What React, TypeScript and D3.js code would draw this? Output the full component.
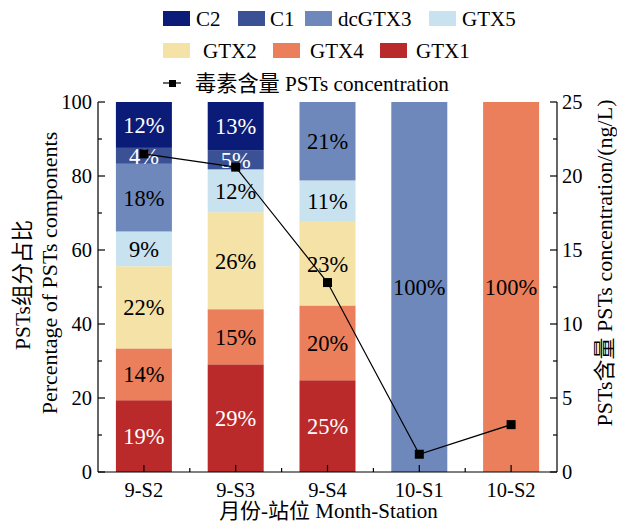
import React from "react";
import * as d3 from "d3";

const stations = ["9-S2", "9-S3", "9-S4", "10-S1", "10-S2"];
const components = ["GTX1", "GTX4", "GTX2", "GTX5", "dcGTX3", "C1", "C2"];
const GTX1 = [19.4, 29.1, 24.8, 0, 0];
const GTX4 = [14.0, 14.9, 20.2, 0, 100];
const GTX2 = [22.2, 26.2, 22.6, 0, 0];
const GTX5 = [9.4, 11.6, 11.2, 0, 0];
const dcGTX3 = [18.3, 0, 21.2, 100, 0];
const C1 = [4.3, 5.2, 0, 0, 0];
const C2 = [12.4, 13.0, 0, 0, 0];
const concentration = [21.5, 20.6, 12.8, 1.2, 3.2];
const leftTicks = [0, 20, 40, 60, 80, 100];
const rightTicks = [0, 5, 10, 15, 20, 25];

const colors: Record<string, string> = {
  C2: "#0b1c78",
  C1: "#3a5196",
  dcGTX3: "#6e88bc",
  GTX5: "#c8e2f0",
  GTX2: "#f4e2a6",
  GTX4: "#eb7f5b",
  GTX1: "#bb2a2b",
};
const whiteText = ["C2", "C1", "GTX1"];

const W = 617;
const H = 522;
const margin = { top: 102, right: 60, bottom: 50, left: 98 };
const FONT = "Liberation Serif, Noto Sans CJK SC, serif";

export default function App() {
  const rows = stations.map((s, i) => ({
    station: s,
    GTX1: GTX1[i], GTX4: GTX4[i], GTX2: GTX2[i], GTX5: GTX5[i],
    dcGTX3: dcGTX3[i], C1: C1[i], C2: C2[i],
  }));
  const stacked = d3.stack<any>().keys(components)(rows);

  const x = d3.scaleBand().domain(stations).range([margin.left, W - margin.right]).paddingInner(0.39).paddingOuter(0.195);
  const y = d3.scaleLinear().domain([0, 100]).range([H - margin.bottom, margin.top]);
  const y2 = d3.scaleLinear().domain([0, 25]).range([H - margin.bottom, margin.top]);

  const x0 = margin.left;
  const x1 = W - margin.right;
  const yb = H - margin.bottom;
  const step = x.step();

  const line = d3.line<number>()
    .x((_, i) => x(stations[i])! + x.bandwidth() / 2)
    .y((d) => y2(d));

  const leftMinor = d3.range(10, 100, 20);
  const rightMinor = d3.range(2.5, 25, 5);

  const legendRow1 = [
    { k: "C2", sx: 163, tx: 196 },
    { k: "C1", sx: 238, tx: 270 },
    { k: "dcGTX3", sx: 305, tx: 338 },
    { k: "GTX5", sx: 429, tx: 462 },
  ];
  const legendRow2 = [
    { k: "GTX2", sx: 163, tx: 203 },
    { k: "GTX4", sx: 273, tx: 310 },
    { k: "GTX1", sx: 380, tx: 416 },
  ];

  return (
    <svg width={W} height={H} style={{ position: "absolute", left: 0, top: 0, fontFamily: FONT }}>
      <rect width={W} height={H} fill="#fff" />
      {/* bars */}
      {stacked.map((layer) => (
        <g key={layer.key}>
          {layer.map((d, i) => {
            const h = y(d[0]) - y(d[1]);
            if (h <= 0) return null;
            const v = d[1] - d[0];
            return (
              <g key={i}>
                <rect x={x(stations[i])} y={y(d[1])} width={x.bandwidth()} height={h} fill={colors[layer.key]} />
                <text
                  x={x(stations[i])! + x.bandwidth() / 2}
                  y={(y(d[0]) + y(d[1])) / 2 + 8}
                  textAnchor="middle"
                  fontSize={22.5}
                  fill={whiteText.includes(layer.key) ? "#fff" : "#000"}
                >
                  {Math.round(v)}%
                </text>
              </g>
            );
          })}
        </g>
      ))}

      {/* concentration line */}
      <path d={line(concentration)!} fill="none" stroke="#000" strokeWidth={1.2} />
      {concentration.map((c, i) => (
        <rect key={i} x={x(stations[i])! + x.bandwidth() / 2 - 4.5} y={y2(c) - 4.5} width={9} height={9} fill="#000" />
      ))}

      {/* axes */}
      <g stroke="#000" strokeWidth={1.2} fill="none">
        <line x1={x0} y1={margin.top} x2={x0} y2={yb} />
        <line x1={x1} y1={margin.top} x2={x1} y2={yb} />
        <line x1={x0} y1={yb} x2={x1} y2={yb} />
        {leftTicks.map((t) => <line key={"l" + t} x1={x0} x2={x0 + 7} y1={y(t)} y2={y(t)} />)}
        {leftMinor.map((t) => <line key={"lm" + t} x1={x0} x2={x0 + 4} y1={y(t)} y2={y(t)} />)}
        {rightTicks.map((t) => <line key={"r" + t} x1={x1} x2={x1 - 7} y1={y2(t)} y2={y2(t)} />)}
        {rightMinor.map((t) => <line key={"rm" + t} x1={x1} x2={x1 - 4} y1={y2(t)} y2={y2(t)} />)}
        {stations.map((s) => (
          <line key={"b" + s} x1={x(s)! + x.bandwidth() / 2} x2={x(s)! + x.bandwidth() / 2} y1={yb} y2={yb - 7} />
        ))}
        {stations.slice(1).map((s) => (
          <line key={"bm" + s} x1={x(s)! + x.bandwidth() / 2 - step / 2} x2={x(s)! + x.bandwidth() / 2 - step / 2} y1={yb} y2={yb - 4} />
        ))}
      </g>
      {leftTicks.map((t) => (
        <text key={"lt" + t} x={x0 - 6} y={y(t) + 7} textAnchor="end" fontSize={20.5}>{t}</text>
      ))}
      {rightTicks.map((t) => (
        <text key={"rt" + t} x={x1 + 5} y={y2(t) + 7} textAnchor="start" fontSize={20.5}>{t}</text>
      ))}
      {stations.map((s) => (
        <text key={"xt" + s} x={x(s)! + x.bandwidth() / 2} y={yb + 25} textAnchor="middle" fontSize={20.5}>{s}</text>
      ))}

      {/* axis titles */}
      <text x={(x0 + x1) / 2 + 1} y={H - 4} textAnchor="middle" fontSize={21}>月份-站位 Month-Station</text>
      <text transform={`translate(30, 285) rotate(-90)`} textAnchor="middle" fontSize={21.5}>PSTs组分占比</text>
      <text transform={`translate(57, 273) rotate(-90)`} textAnchor="middle" fontSize={22}>Percentage of PSTs components</text>
      <text transform={`translate(612, 263) rotate(-90)`} textAnchor="middle" fontSize={22}>PSTs含量 PSTs concentration/(ng/L)</text>

      {/* legend */}
      {legendRow1.map((l) => (
        <g key={l.k}>
          <rect x={l.sx} y={11} width={27} height={15} fill={colors[l.k]} />
          <text x={l.tx} y={26} fontSize={21}>{l.k}</text>
        </g>
      ))}
      {legendRow2.map((l) => (
        <g key={l.k}>
          <rect x={l.sx} y={43} width={27} height={15} fill={colors[l.k]} />
          <text x={l.tx} y={58} fontSize={21}>{l.k}</text>
        </g>
      ))}
      <line x1={163} x2={181} y1={83} y2={83} stroke="#000" strokeWidth={1.2} />
      <rect x={169} y={80} width={7} height={7} fill="#000" />
      <text x={195} y={91} fontSize={21.2}>毒素含量 PSTs concentration</text>
    </svg>
  );
}
